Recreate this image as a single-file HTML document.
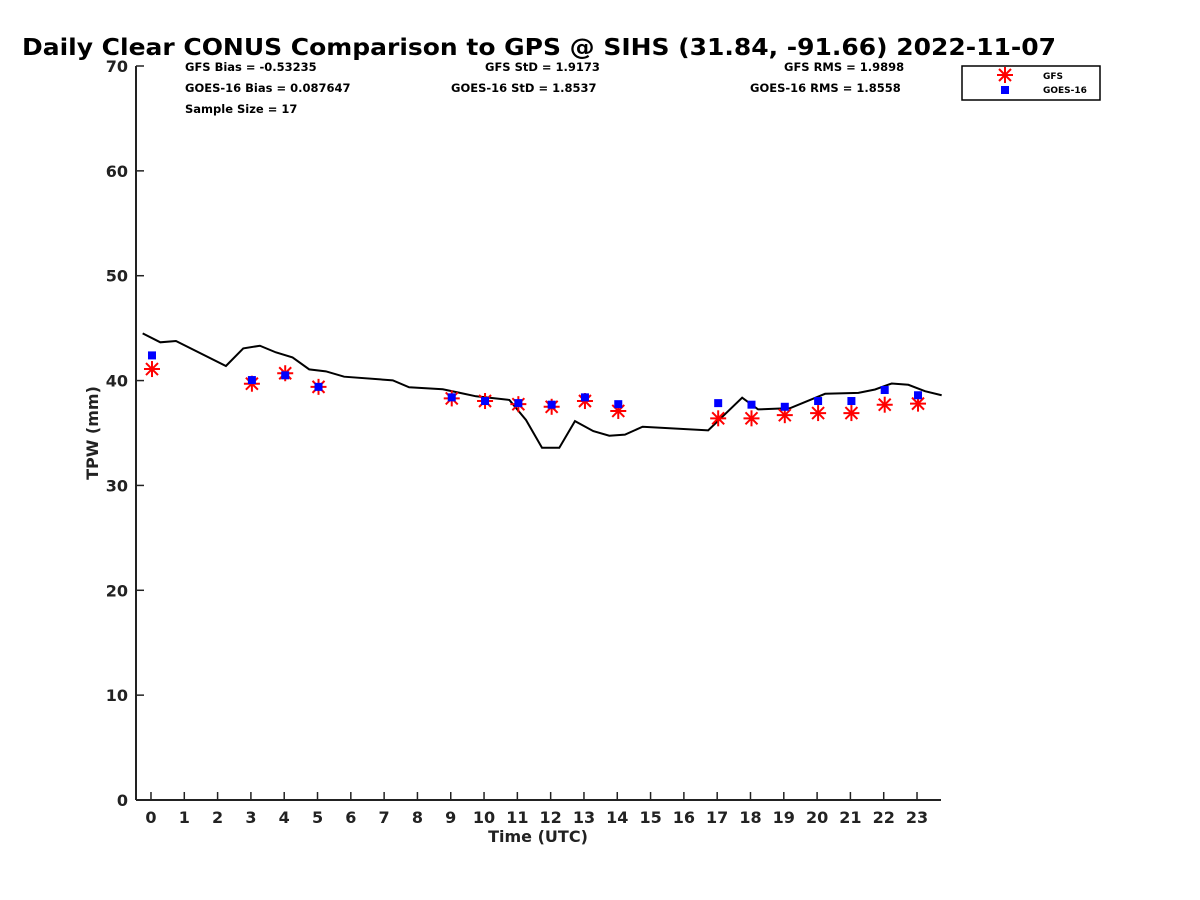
<!DOCTYPE html>
<html><head><meta charset="utf-8"><style>
body{margin:0;background:#fff;}
svg{display:block;font-family:"DejaVu Sans","Liberation Sans",sans-serif;font-weight:bold;}
</style></head><body>
<svg id="chart" width="1200" height="900" viewBox="0 0 1200 900">
<rect width="1200" height="900" fill="#fff"/>
<text x="22" y="55" font-size="23" textLength="1034" lengthAdjust="spacingAndGlyphs">Daily Clear CONUS Comparison to GPS @ SIHS (31.84, -91.66) 2022-11-07</text>
<g id="stats" font-size="11.5">
<text x="185" y="71">GFS Bias = -0.53235</text>
<text x="185" y="92">GOES-16 Bias = 0.087647</text>
<text x="185" y="113">Sample Size = 17</text>
<text x="485" y="71">GFS StD = 1.9173</text>
<text x="451" y="92">GOES-16 StD = 1.8537</text>
<text x="784" y="71">GFS RMS = 1.9898</text>
<text x="750" y="92">GOES-16 RMS = 1.8558</text>
</g>
<g id="axes"></g>
<g id="marks"></g>
<g>
<rect x="962" y="66" width="138" height="34" fill="#fff" stroke="#000" stroke-width="1.5"/>
<g stroke="#f00" stroke-width="2"><line x1="997" y1="75" x2="1013" y2="75"/><line x1="1005" y1="67" x2="1005" y2="83"/><line x1="999" y1="69" x2="1011" y2="81"/><line x1="1011" y1="69" x2="999" y2="81"/></g>
<rect x="1001" y="86" width="8" height="8" fill="#00f"/>
<text x="1043" y="79" font-size="9">GFS</text>
<text x="1043" y="93" font-size="9">GOES-16</text>
</g>
</svg>
<script>
const xTicks=[0,1,2,3,4,5,6,7,8,9,10,11,12,13,14,15,16,17,18,19,20,21,22,23];
const yTicks=[0,10,20,30,40,50,60,70];
const gpsHours=[-0.25,0.28,0.75,2.25,2.77,3.27,3.75,4.25,4.75,5.25,5.8,7.26,7.75,8.76,9.26,9.76,10.76,11.26,11.74,12.26,12.73,13.28,13.76,14.23,14.76,16.73,17.75,18.23,19.19,20.24,21.24,21.74,22.24,22.74,23.24,23.74];
const gpsTPW=[44.5,43.65,43.77,41.39,43.07,43.32,42.69,42.21,41.07,40.88,40.37,40.02,39.36,39.17,38.84,38.5,38.15,36.24,33.59,33.59,36.13,35.18,34.74,34.84,35.6,35.25,38.37,37.25,37.37,38.74,38.83,39.15,39.72,39.6,38.99,38.6];
const ptHours=[0,3,4,5,9,10,11,12,13,14,17,18,19,20,21,22,23];
const gfsTPW=[41.1,39.7,40.7,39.4,38.3,38.05,37.75,37.5,38.05,37.1,36.4,36.4,36.7,36.9,36.9,37.7,37.8];
const goesTPW=[42.4,40.05,40.5,39.4,38.4,38.05,37.85,37.7,38.4,37.75,37.85,37.7,37.5,38.05,38.05,39.1,38.6];
const NS="http://www.w3.org/2000/svg";
const X0=136,X1=941,Y0=800,Y1=66,xmin=-0.45,xmax=23.72;
const sx=h=>X0+(h-xmin)/(xmax-xmin)*(X1-X0);
const sy=v=>Y0-(v/70)*(Y0-Y1);
function mk(tag,attrs,parent){const e=document.createElementNS(NS,tag);for(const k in attrs)e.setAttribute(k,attrs[k]);parent.appendChild(e);return e;}
const ax=document.getElementById('axes'),mg=document.getElementById('marks');
let e=mk('line',{x1:X0,y1:Y0,x2:X1,y2:Y0,stroke:'#222','stroke-width':2},ax);


e=mk('line',{x1:X0,y1:Y0,x2:X0,y2:Y1,stroke:'#222','stroke-width':2},ax);


xTicks.forEach(t=>{const x=sx(t);mk('line',{x1:x,y1:Y0,x2:x,y2:Y0-8,stroke:'#222','stroke-width':1.5},ax);
const tx=mk('text',{x:x,y:Y0+23,'font-size':16,'text-anchor':'middle',fill:'#222'},ax);tx.textContent=t;

});
yTicks.forEach(t=>{const y=sy(t);mk('line',{x1:X0,y1:y,x2:X0+8,y2:y,stroke:'#222','stroke-width':1.5},ax);
const tx=mk('text',{x:X0-8,y:y+6,'font-size':16,'text-anchor':'end',fill:'#222'},ax);tx.textContent=t;

});
e=mk('text',{x:538,y:842,'font-size':16,'text-anchor':'middle',fill:'#222'},ax);e.textContent='Time (UTC)';


e=mk('text',{x:98,y:433,'font-size':16,'text-anchor':'middle',fill:'#222',transform:'rotate(-90 98 433)'},ax);e.textContent='TPW (mm)';


const pl=mk('polyline',{points:gpsHours.map((h,i)=>sx(h)+','+sy(gpsTPW[i])).join(' '),fill:'none',stroke:'#000','stroke-width':2},mg);


ptHours.forEach((h,i)=>{const x=sx(h)+1,y=sy(gfsTPW[i]);
const g=mk('g',{stroke:'#f00','stroke-width':2},mg);


mk('line',{x1:x-8,y1:y,x2:x+8,y2:y},g);mk('line',{x1:x,y1:y-8,x2:x,y2:y+8},g);
mk('line',{x1:x-6,y1:y-6,x2:x+6,y2:y+6},g);mk('line',{x1:x+6,y1:y-6,x2:x-6,y2:y+6},g);});
ptHours.forEach((h,i)=>{const x=sx(h)+1,y=sy(goesTPW[i]);
const r=mk('rect',{x:x-4,y:y-4,width:8,height:8,fill:'#00f'},mg);

});
</script>
</body></html>
